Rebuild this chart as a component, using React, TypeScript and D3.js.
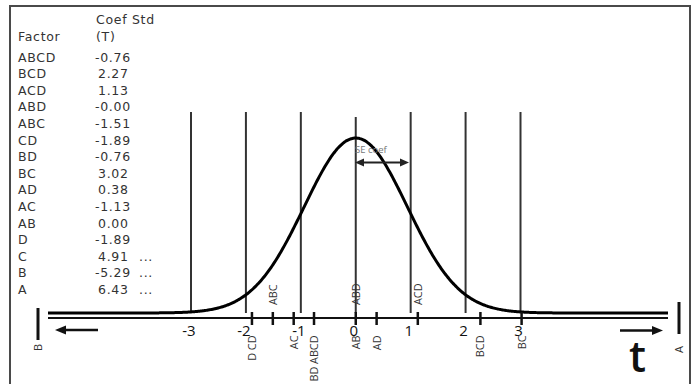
import React from 'react';
import * as d3 from 'd3';

// effects table (standardized coefficients, T)
const factors = ['ABCD', 'BCD', 'ACD', 'ABD', 'ABC', 'CD', 'BD', 'BC', 'AD', 'AC', 'AB', 'D', 'C', 'B', 'A'];
const tValues = ['-0.76', '2.27', '1.13', '-0.00', '-1.51', '-1.89', '-0.76', '3.02', '0.38', '-1.13', '0.00', '-1.89', '4.91', '-5.29', '6.43'];
const offScale = ['C', 'B', 'A'];

// marks along the t axis: label, value, side
const markLabels = ['D CD', 'ABC', 'AC', 'BD ABCD', 'AB', 'ABD', 'AD', 'ACD', 'BCD', 'BC'];
const markValues = [-1.89, -1.51, -1.13, -0.76, 0.0, -0.0, 0.38, 1.13, 2.27, 3.02];
const markSide = ['below', 'above', 'below', 'below', 'below', 'above', 'below', 'above', 'below', 'below'];

const axisTicks = [-3, -2, -1, 0, 1, 2, 3];
const curveSd = 0.94;

const W = 696;
const H = 384;

export default function App() {
  const x = d3.scaleLinear().domain([-3, 3]).range([191, 520.5]);
  const baseY = 313;
  const axisY = 318;
  const y = d3.scaleLinear().domain([0, 1]).range([baseY, 138]);

  const v0 = x.invert(48);
  const v1 = x.invert(668);
  const pts = d3.range(v0, v1, 0.02).concat([v1]);
  const line = d3
    .line<number>()
    .x((v) => x(v))
    .y((v) => y(Math.exp(-(v * v) / (2 * curveSd * curveSd))))
    .curve(d3.curveBasis);

  const tableFont = 'DejaVu Sans, sans-serif';
  const rowY = (i: number) => 61.5 + i * 16.6;

  const marksDone = new Set<number>();

  return (
    <svg width={W} height={H} style={{ position: 'absolute', left: 0, top: 0, background: '#fff' }}>
      {/* frame */}
      <rect x={10} y={6} width={680} height={420} fill="none" stroke="#4a4a4a" strokeWidth={2} />

      {/* table */}
      <g fontFamily={tableFont} fontSize={12.5} fill="#333" letterSpacing={0.7}>
        <text x={96} y={24}>Coef Std</text>
        <text x={18} y={41}>Factor</text>
        <text x={96} y={41}>(T)</text>
        {factors.map((f, i) => (
          <g key={f}>
            <text x={18} y={rowY(i)}>{f}</text>
            <text x={tValues[i].startsWith('-') ? 95 : 98} y={rowY(i)}>{tValues[i]}</text>
            {offScale.includes(f) && <text x={139} y={rowY(i)}>...</text>}
          </g>
        ))}
      </g>

      {/* vertical reference lines */}
      {axisTicks.map((t) => (
        <line key={t} x1={x(t)} x2={x(t)} y1={t === 0 ? 117 : 112} y2={baseY} stroke="#333" strokeWidth={2} />
      ))}

      {/* normal curve */}
      <path d={line(pts) || ''} fill="none" stroke="#000" strokeWidth={3} />

      {/* axis line */}
      <line x1={48} x2={668} y1={axisY} y2={axisY} stroke="#111" strokeWidth={2.2} />

      {/* axis numbers */}
      <g fontFamily="Open Sans, sans-serif" fontSize={15} fill="#111" textAnchor="middle">
        {axisTicks.map((t) => (
          <text key={t} x={x(t) - 2} y={336}>{t}</text>
        ))}
      </g>

      {/* factor marks */}
      {markValues.map((v, i) => {
        const px = x(v);
        const key = Math.round(px);
        const draw = !marksDone.has(key);
        marksDone.add(key);
        return draw ? (
          <line key={'m' + i} x1={px} x2={px} y1={312} y2={325} stroke="#111" strokeWidth={2.5} />
        ) : null;
      })}
      <g fontFamily="Open Sans, sans-serif" fontSize={10.8} fill="#333">
        {markLabels.map((lab, i) => {
          const px = x(markValues[i]) + 4;
          const above = markSide[i] === 'above';
          return (
            <text
              key={lab}
              transform={`translate(${px},${above ? 305 : 335.5}) rotate(-90)`}
              textAnchor={above ? 'start' : 'end'}
            >
              {lab}
            </text>
          );
        })}
      </g>

      {/* SE coef arrow */}
      <g>
        <text x={355} y={153} fontFamily="Open Sans, sans-serif" fontSize={9.5} fill="#777">SE coef</text>
        <line x1={360} x2={405} y1={162.5} y2={162.5} stroke="#222" strokeWidth={2} />
        <polygon points="355,162.5 364,158.5 364,166.5" fill="#222" />
        <polygon points="409,162.5 400,158.5 400,166.5" fill="#222" />
      </g>

      {/* end markers */}
      <line x1={38} x2={38} y1={308} y2={340} stroke="#111" strokeWidth={3} />
      <text transform="translate(42,351) rotate(-90)" fontFamily="Open Sans, sans-serif" fontSize={11} fill="#333">B</text>
      <line x1={679} x2={679} y1={302} y2={334} stroke="#111" strokeWidth={3} />
      <text transform="translate(683,353) rotate(-90)" fontFamily="Open Sans, sans-serif" fontSize={11} fill="#333">A</text>

      {/* direction arrows */}
      <line x1={64} x2={98} y1={330} y2={330} stroke="#111" strokeWidth={2.5} />
      <polygon points="55,330 66,325.5 66,334.5" fill="#111" />
      <line x1={620} x2={654} y1={330.5} y2={330.5} stroke="#111" strokeWidth={2.5} />
      <polygon points="663,330.5 652,326 652,335" fill="#111" />

      <text x={629} y={372} fontFamily="Open Sans, sans-serif" fontSize={43} fontWeight={600} fill="#111">t</text>
    </svg>
  );
}
